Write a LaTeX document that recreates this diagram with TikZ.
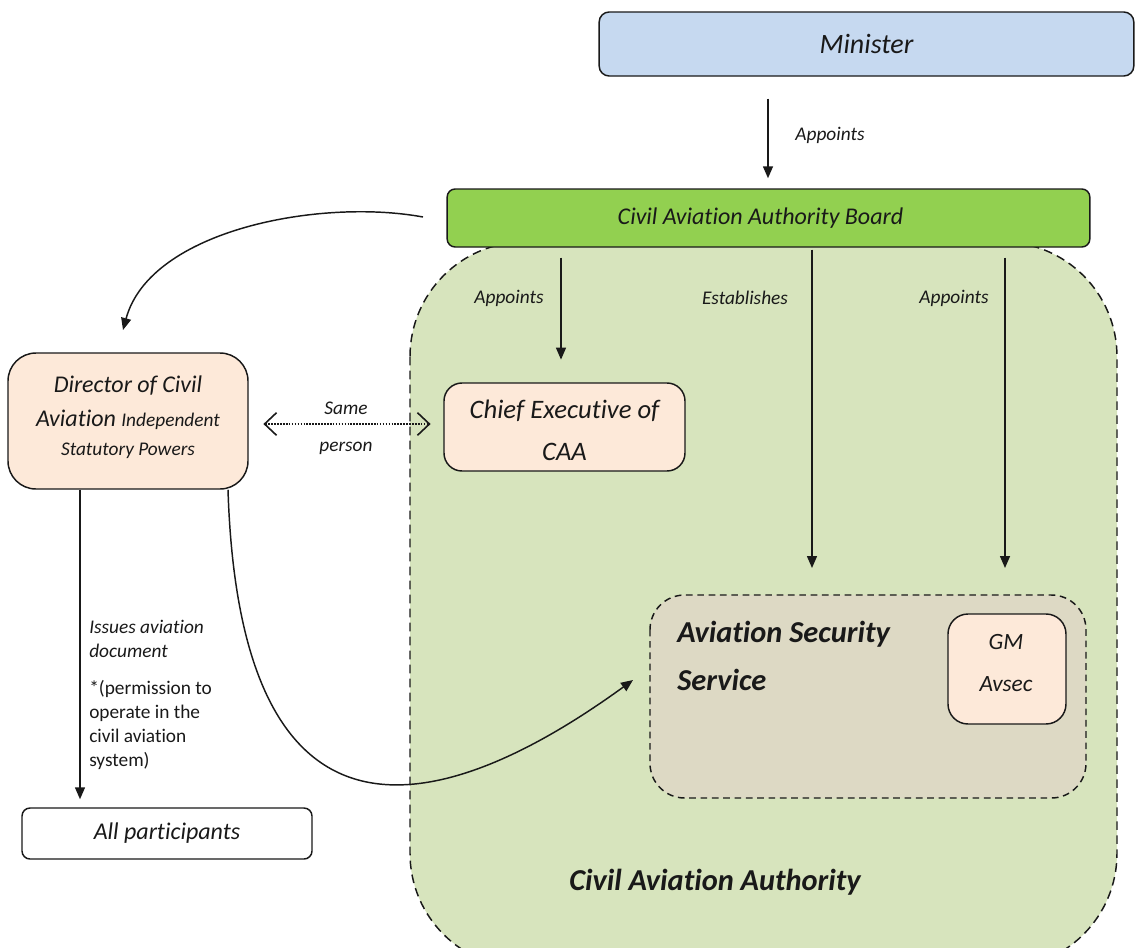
\documentclass[tikz,border=0pt]{standalone}
\usepackage{fontspec}
\setmainfont{Carlito}[Ligatures=CommonOff]
\usetikzlibrary{arrows.meta,calc}
\definecolor{minblue}{RGB}{198,217,240}
\definecolor{boardgreen}{RGB}{146,208,80}
\definecolor{caagreen}{RGB}{215,228,189}
\definecolor{avsecfill}{RGB}{221,217,196}
\definecolor{peach}{RGB}{253,233,217}
\definecolor{ink}{RGB}{25,25,25}
\tikzset{
  box/.style={draw=ink, line width=1.1pt, inner sep=0pt, align=center, text=ink},
  arr/.style={draw=ink, line width=1.1pt, -{Triangle[length=9pt,width=7.5pt]}},
  lbl/.style={font=\itshape\fontsize{14.5}{18}\selectfont, text=ink, inner sep=0pt},
  dashregion/.style={draw=ink, line width=1.1pt, dash pattern=on 6.5pt off 4pt}
}
\begin{document}
\begin{tikzpicture}[x=0.75pt,y=-0.75pt]
\useasboundingbox (0,0) rectangle (1136,947);
% Civil Aviation Authority region
\begin{scope}
\clip (0,0) rectangle (1136,947);
\filldraw[dashregion, fill=caagreen, rounded corners=86pt] (410,242) rectangle (1117,968);
\end{scope}
\node[font=\bfseries\itshape\fontsize{22.8}{27}\selectfont, text=ink] (caalabel) at (715,882) {Civil Aviation Authority};

% Minister
\node[box, fill=minblue, rounded corners=7.5pt, minimum width=401pt, minimum height=48pt,
      font=\itshape\fontsize{21}{25}\selectfont] (minister) at (866.5,44) {Minister};
% Board
\node[box, fill=boardgreen, rounded corners=6pt, minimum width=482pt, minimum height=43.5pt,
      font=\itshape\fontsize{18}{22}\selectfont] (board) at (768.5,218) {\hspace*{-12pt}Civil Aviation Authority Board};
% Chief Executive
\node[box, fill=peach, rounded corners=13.5pt, minimum width=180.75pt, minimum height=66pt] (ce) at (564.5,427) {};
\node[align=center, inner sep=0pt, text=ink, font=\itshape\fontsize{20}{31.5}\selectfont] (cetext) at (564.5,430) {Chief Executive of\\CAA};
% Director
\node[box, fill=peach, rounded corners=21pt, minimum width=180pt, minimum height=102pt] (dir) at (128,421) {};
\node[align=center, inner sep=0pt, text=ink, font=\itshape\fontsize{18}{25.5}\selectfont] (dirtext) at (128,417)
  {Director of Civil\\
   Aviation {\fontsize{14.5}{25.5}\selectfont Independent}\\[-3.75pt]
   {\fontsize{14.5}{25.5}\selectfont Statutory Powers}};
% All participants
\node[box, fill=white, rounded corners=6pt, minimum width=217.5pt, minimum height=38.25pt,
      font=\itshape\fontsize{18}{22}\selectfont] (all) at (167,833.5) {All participants};
% Aviation Security Service
\filldraw[dashregion, fill=avsecfill, dash pattern=on 5pt off 3.5pt, rounded corners=26pt] (650,595) rectangle (1086,798);
\node[anchor=west, align=left, inner sep=0pt, text=ink, font=\bfseries\itshape\fontsize{22.8}{36}\selectfont] (avsec) at (677,656) {Aviation Security\\Service};
% GM Avsec
\node[box, fill=peach, rounded corners=15pt, minimum width=88.5pt, minimum height=82.5pt] (gm) at (1007,669) {};
\node[align=center, inner sep=0pt, text=ink, font=\itshape\fontsize{17.5}{31.5}\selectfont] (gmtext) at (1006,663) {GM\\Avsec};

% Minister -> Board
\coordinate (xa) at (768,0);
\draw[arr, shorten <=16.5pt, shorten >=7.5pt] (minister.south -| xa) -- (board.north -| xa);
\node[lbl] (l1) at (830,135) {Appoints};
% Board -> CE
\coordinate (xb) at (561,0);
\draw[arr, shorten <=7.5pt, shorten >=17pt] (board.south -| xb) -- (ce.north -| xb);
\node[lbl] (l2) at (509,298) {Appoints};
% Board -> AvSec (establishes)
\coordinate (xc) at (812,0);
\coordinate (xcend) at (812,568);
\draw[arr, shorten <=1.5pt] (board.south -| xc) -- (xcend);
\node[lbl] (l3) at (745,298) {Establishes};
% Board -> GM (appoints)
\coordinate (xd) at (1005,0);
\coordinate (xdend) at (1005,568);
\draw[arr, shorten <=7.5pt] (board.south -| xd) -- (xdend);
\node[lbl] (l4) at (954,298) {Appoints};

% Board -> Director (curved)
\coordinate (bstart) at (423,217);
\coordinate (dtop) at (123,330);
\draw[arr] (bstart) .. controls (320,198) and (150,230) .. (dtop);

% Same person
\coordinate (sp) at (0,424);
\draw[draw=ink, line width=1.2pt, densely dotted,
      {Straight Barb[length=9pt,width=17pt,line width=1.2pt]}-{Straight Barb[length=9pt,width=17pt,line width=1.2pt]},
      shorten <=11pt, shorten >=9.5pt] (dir.east |- sp) -- (ce.west |- sp);
\node[lbl, align=center, font=\itshape\fontsize{14.5}{27.75}\selectfont] (same) at (346,428) {Same\\person};

% Director -> All participants
\coordinate (xe) at (80,0);
\draw[arr, shorten >=6pt] (dir.south -| xe) -- (all.north -| xe);
\node[lbl, anchor=north west, align=left] (issues) at (89,620)
  {Issues aviation\\document\\[9.75pt]
   \upshape *(permission to\\\upshape operate in the\\\upshape civil aviation\\\upshape system)};

% Director -> Aviation Security Service (curved)
\coordinate (xf) at (228,0);
\coordinate (avtip) at (633,680);
\draw[arr] (dir.south -| xf) .. controls (240,870) and (440,820) .. (avtip);
\end{tikzpicture}
\end{document}
